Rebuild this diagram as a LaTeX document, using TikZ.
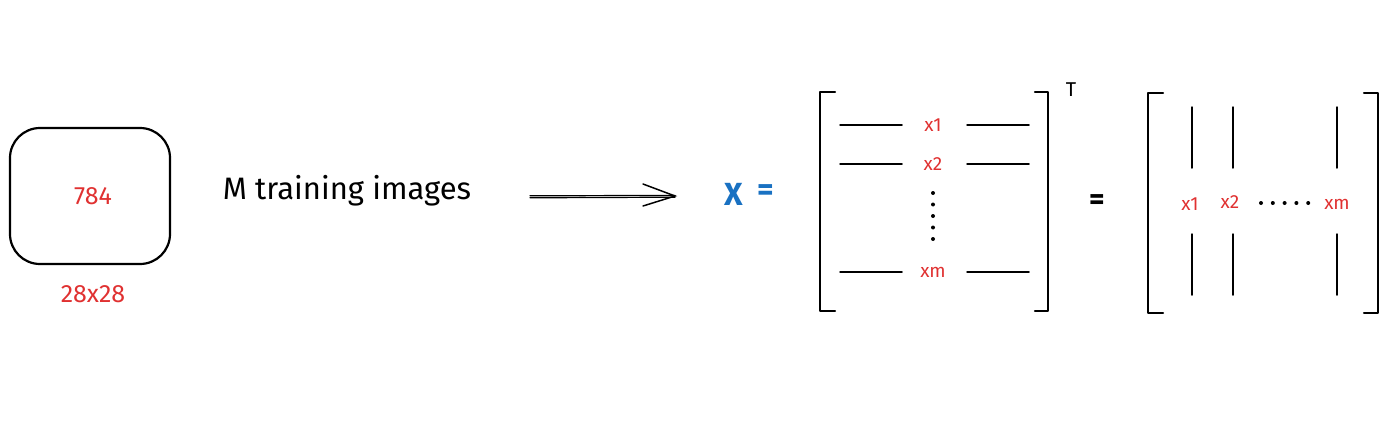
\documentclass[tikz,border=0pt]{standalone}
\usepackage{fontspec}
\setmainfont{Fira Sans}
\usetikzlibrary{arrows.meta}
\definecolor{rd}{HTML}{E03131}
\definecolor{bl}{HTML}{1971C2}
\tikzset{
  ink/.style={draw=black, line width=2.2pt, line cap=round, line join=round},
  thin/.style={draw=black, line width=1.5pt, line cap=round},
  redlbl/.style={text=rd, inner sep=0pt, font=\fontsize{19}{19}\selectfont},
  biglbl/.style={text=rd, inner sep=0pt, font=\fontsize{25}{25}\selectfont},
  dotmark/.style={fill=black, circle, inner sep=0pt, minimum size=4pt},
}
\begin{document}
\begin{tikzpicture}[x=1pt,y=-1pt]
\useasboundingbox (0,0) rectangle (1400,434);
% image box
\node[ink, rounded corners=30pt, minimum width=160pt, minimum height=136pt, inner sep=0pt] (img) at (90,196) {};
\node[biglbl] (n784) at (93,196) {784};
\node[biglbl] (n28) at (93,294) {28x28};
\node[inner sep=0pt, font=\fontsize{31}{31}\selectfont] (txt) at (347,191) {M training images};
% double arrow
\coordinate (a1) at (530,197);
\coordinate (a2) at (675,196);
\draw[thin, line width=1.2pt] ([yshift=1.2pt]a1) -- ([yshift=0.6pt]a2);
\draw[thin, line width=1.2pt] ([yshift=-0.8pt]a1) -- ([yshift=-1.2pt]a2);
\coordinate (h1) at (643,184);
\coordinate (h2) at (643,206);
\draw[thin] (h1) -- (a2) -- (h2);
% X =
\node[text=bl, inner sep=0pt, font=\fontsize{32}{32}\selectfont\bfseries] (X) at (734,194) {X};
\node[text=bl, inner sep=0pt, font=\fontsize{32}{32}\selectfont\bfseries] (eq1) at (766,193) {=};
% matrix 1
\coordinate (L1t) at (835,92); \coordinate (L1b) at (835,311);
\draw[ink] (L1t) -- (820,92) -- (820,311) -- (L1b);
\coordinate (R1t) at (1035,92); \coordinate (R1b) at (1035,311);
\draw[ink] (R1t) -- (1048,92) -- (1048,311) -- (R1b);
\node[inner sep=0pt, font=\fontsize{20}{20}\selectfont] (T) at (1071,90) {T};
\foreach \y/\lab/\nm in {125/x1/r1, 164/x2/r2, 272/xm/r3}{
  \node[redlbl] (\nm) at (933,\y) {\lab};
  \coordinate (\nm l1) at (840,\y); \coordinate (\nm l2) at (902,\y);
  \coordinate (\nm r1) at (967,\y); \coordinate (\nm r2) at (1029,\y);
  \draw[thin] (\nm l1) -- (\nm l2);
  \draw[thin] (\nm r1) -- (\nm r2);
}
\foreach \i in {1,...,5}{
  \node[dotmark] (vd\i) at (933,{193+(\i-1)*11.5}) {};
}
% equals
\node[inner sep=0pt, font=\fontsize{30}{30}\selectfont\bfseries] (eq2) at (1097,202) {=};
% matrix 2
\coordinate (L2t) at (1163,93); \coordinate (L2b) at (1163,313);
\draw[ink] (L2t) -- (1148,93) -- (1148,313) -- (L2b);
\coordinate (R2t) at (1364,93); \coordinate (R2b) at (1364,313);
\draw[ink] (R2t) -- (1378,93) -- (1378,313) -- (R2b);
\node[redlbl] (c1) at (1190,204) {x1};
\node[redlbl] (c2) at (1230,202) {x2};
\node[redlbl] (c3) at (1337,204) {xm};
\foreach \i in {0,...,4}{
  \node[dotmark] (hd\i) at ({1261+\i*11.8},203) {};
}
\foreach \x/\nm in {1192/c1, 1233/c2, 1337/c3}{
  \coordinate (\nm t1) at (\x,107); \coordinate (\nm t2) at (\x,168);
  \coordinate (\nm b1) at (\x,234); \coordinate (\nm b2) at (\x,295);
  \draw[thin] (\nm t1) -- (\nm t2);
  \draw[thin] (\nm b1) -- (\nm b2);
}
\end{tikzpicture}
\end{document}
